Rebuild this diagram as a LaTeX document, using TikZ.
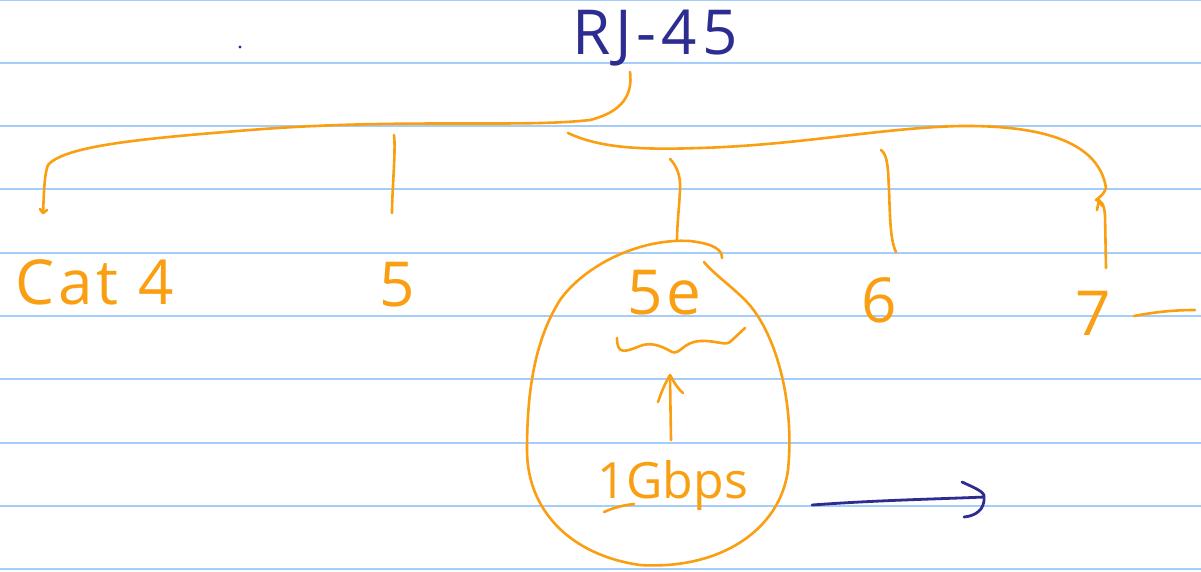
\documentclass[tikz,border=0pt]{standalone}
\usepackage{fontspec}
\setmainfont{Open Sans}
\usetikzlibrary{arrows.meta}
\definecolor{ink}{RGB}{250,158,18}
\definecolor{blueink}{RGB}{45,45,145}
\definecolor{rule}{RGB}{165,205,250}
\tikzset{
  pen/.style={draw=ink, line width=2.6pt, line cap=round, line join=round},
  bpen/.style={draw=blueink, line width=2.8pt, line cap=round, line join=round},
  hand/.style={text=ink, font=\fontsize{62}{66}\selectfont\addfontfeature{LetterSpace=6}, inner sep=0pt},
  smallhand/.style={text=ink, font=\fontsize{50}{54}\selectfont, inner sep=0pt},
  bhand/.style={text=blueink, font=\fontsize{62}{66}\selectfont\addfontfeature{LetterSpace=8}, inner sep=0pt},
  ruling/.style={draw=rule, line width=1.6pt}
}
\begin{document}
\begin{tikzpicture}[x=1pt,y=-1pt]
\useasboundingbox (0,0) rectangle (1201,571);
\fill[white] (0,0) rectangle (1201,571);
% ruled paper
\foreach \yy in {0,63,126,189,253,316,379,443,506,569}
  \draw[ruling] (0,\yy) -- (1201,\yy);
% title
\node[bhand] (rj) at (655,38) {RJ-45};
\fill[blueink] (240,47) circle (1.6pt);
% main brace
\coordinate (top) at (630,72);
\coordinate (lend) at (43,213);
\draw[pen] (top) .. controls (633,95) and (622,112) .. (590,120)
  .. controls (520,128) and (400,118) .. (250,130)
  .. controls (150,138) and (65,145) .. (48,165)
  .. controls (44,175) and (44,195) .. (lend);
\draw[pen] (lend) -- ++(-3,-4) (lend) -- ++(4,-3);
\coordinate (rend) at (1106,268);
\draw[pen] (568,133) .. controls (600,148) and (640,150) .. (700,148)
  .. controls (800,145) and (880,128) .. (960,126)
  .. controls (1060,125) and (1100,150) .. (1106,188)
  .. controls (1104,195) and (1098,198) .. (1096,200)
  .. controls (1102,200) and (1104,205) .. (1105,215)
  -- (rend);
\draw[pen] (1097,210) -- (1099,200) -- (1102,206);
% ticks
\draw[pen] (394,135) .. controls (396,150) and (392,190) .. (392,213);
\draw[pen] (670,159) .. controls (676,165) and (681,175) .. (680,190)
  .. controls (679,210) and (677,225) .. (677,240);
\draw[pen] (881,150) .. controls (888,155) and (888,170) .. (889,190)
  .. controls (890,215) and (890,240) .. (896,252);
% labels
\node[hand] (cat) at (95,282) {Cat 4};
\node[hand] (five) at (397,285) {5};
\node[hand] (fivee) at (664,293) {5e};
\node[hand] (six) at (879,300) {6};
\node[hand] (seven) at (1093,313) {7};
\draw[pen] (1134,316) .. controls (1160,311) and (1180,310) .. (1195,310);
% squiggle under 5e
\draw[pen] (617,338) .. controls (617,355) and (625,352) .. (640,346)
  .. controls (650,342) and (660,345) .. (672,352)
  .. controls (680,355) and (683,342) .. (700,341)
  .. controls (715,340) and (725,346) .. (730,342)
  -- (745,328);
% blob
\draw[pen] (722,258) .. controls (722,250) and (715,244) .. (690,241)
  .. controls (640,238) and (585,265) .. (560,300)
  .. controls (535,340) and (527,390) .. (527,450)
  .. controls (527,510) and (570,555) .. (640,565)
  .. controls (720,570) and (780,530) .. (788,470)
  .. controls (795,400) and (775,330) .. (745,300)
  .. controls (730,285) and (715,275) .. (704,262);
% up arrow
\node[smallhand] (gbps) at (673,486) {1Gbps};
\draw[pen] (671,440) -- (670,378);
\draw[pen] (658,402) .. controls (662,390) and (666,382) .. (670,375)
  .. controls (674,382) and (677,388) .. (683,393);
\draw[pen] (604,512) .. controls (615,507) and (625,505) .. (634,504);
% blue arrow
\coordinate (bs) at (812,505);
\coordinate (be) at (984,497);
\draw[bpen] (bs) .. controls (880,500) and (940,499) .. (be);
\draw[bpen] (962,482) .. controls (975,488) and (985,492) .. (be)
  .. controls (985,510) and (975,516) .. (964,517);
\end{tikzpicture}
\end{document}
